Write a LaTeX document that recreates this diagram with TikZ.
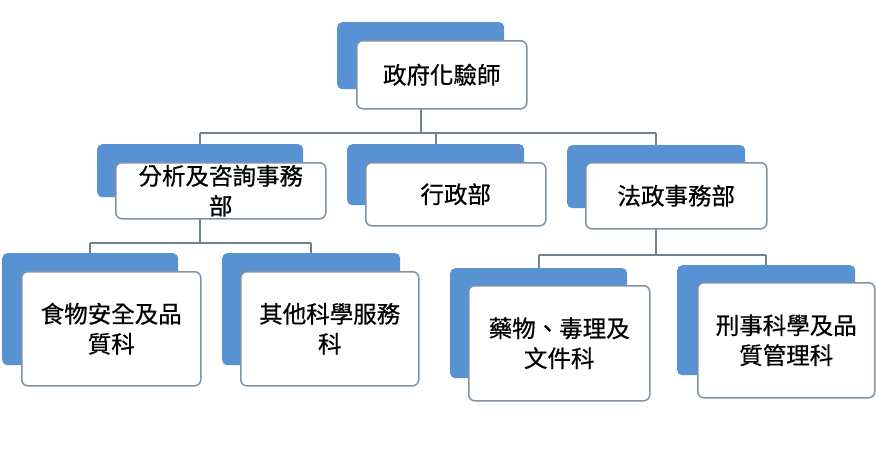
\documentclass[tikz,border=0pt]{standalone}
\usepackage{fontspec}
\newfontfamily\cjk[FakeBold=0.6]{Noto Sans CJK TC}
\usetikzlibrary{backgrounds}
\definecolor{bluebox}{RGB}{88,146,210}
\definecolor{boxedge}{RGB}{128,146,164}
\definecolor{conngray}{RGB}{112,130,146}
\tikzset{
  bbox/.style={fill=bluebox, rounded corners=5pt, inner sep=0pt, anchor=north west},
  wbox/.style={fill=white, draw=boxedge, line width=1.5pt, rounded corners=6pt, inner sep=0pt,
    anchor=north west, align=center, font=\cjk\fontsize{23.5}{30}\selectfont},
  conn/.style={draw=conngray, line width=1.6pt}
}
\begin{document}
\begin{tikzpicture}[x=1pt,y=-1pt]
\useasboundingbox (0,0) rectangle (876,451);
% root
\node[bbox, minimum width=167pt, minimum height=67pt] (b0) at (337,22) {};
\node[wbox, minimum width=170pt, minimum height=68pt] (w0) at (356,40) {政府化驗師};
% level 1
\node[bbox, minimum width=206pt, minimum height=53pt] (ba) at (97,144) {};
\node[wbox, minimum width=210pt, minimum height=56pt] (wa) at (115,162) {分析及咨詢事務\\部};
\node[bbox, minimum width=177pt, minimum height=61pt] (bb) at (347,144) {};
\node[wbox, minimum width=180pt, minimum height=63pt] (wb) at (365,162) {行政部};
\node[bbox, minimum width=178pt, minimum height=63pt] (bc) at (567,145) {};
\node[wbox, minimum width=181pt, minimum height=66pt] (wc) at (585,162) {法政事務部};
% level 2
\node[bbox, minimum width=176pt, minimum height=112pt] (bd) at (2,253) {};
\node[wbox, minimum width=179pt, minimum height=114pt] (wd) at (21,271) {食物安全及品\\質科};
\node[bbox, minimum width=178pt, minimum height=112pt] (be) at (222,253) {};
\node[wbox, minimum width=178pt, minimum height=114pt] (we) at (240,271) {其他科學服務\\科};
\node[bbox, minimum width=177pt, minimum height=110pt] (bf) at (450,268) {};
\node[wbox, minimum width=181pt, minimum height=115pt] (wf) at (468,285) {藥物、毒理及\\文件科};
\node[bbox, minimum width=178pt, minimum height=110pt] (bg) at (677,265) {};
\node[wbox, minimum width=177pt, minimum height=115pt] (wg) at (697,282) {刑事科學及品\\質管理科};
% connectors
\coordinate (h0) at (0,133);
\coordinate (h1) at (0,243);
\coordinate (h2) at (0,255);
\begin{scope}[on background layer]
\fill[white] (0,0) rectangle (876,451);
\draw[conn] (b0.south) -- (b0.south |- h0);
\draw[conn] (ba.north |- h0) -- (bc.north |- h0);
\draw[conn] (ba.north |- h0) -- (ba.north);
\draw[conn] (bb.north |- h0) -- (bb.north);
\draw[conn] (bc.north |- h0) -- (bc.north);
\draw[conn] (ba.south) -- (ba.south |- h1);
\draw[conn] (bd.north |- h1) -- (be.north |- h1);
\draw[conn] (bd.north |- h1) -- (bd.north);
\draw[conn] (be.north |- h1) -- (be.north);
\draw[conn] (bc.south) -- (bc.south |- h2);
\draw[conn] (bf.north |- h2) -- (bg.north |- h2);
\draw[conn] (bf.north |- h2) -- (bf.north);
\draw[conn] (bg.north |- h2) -- (bg.north);
\end{scope}
\end{tikzpicture}
\end{document}
